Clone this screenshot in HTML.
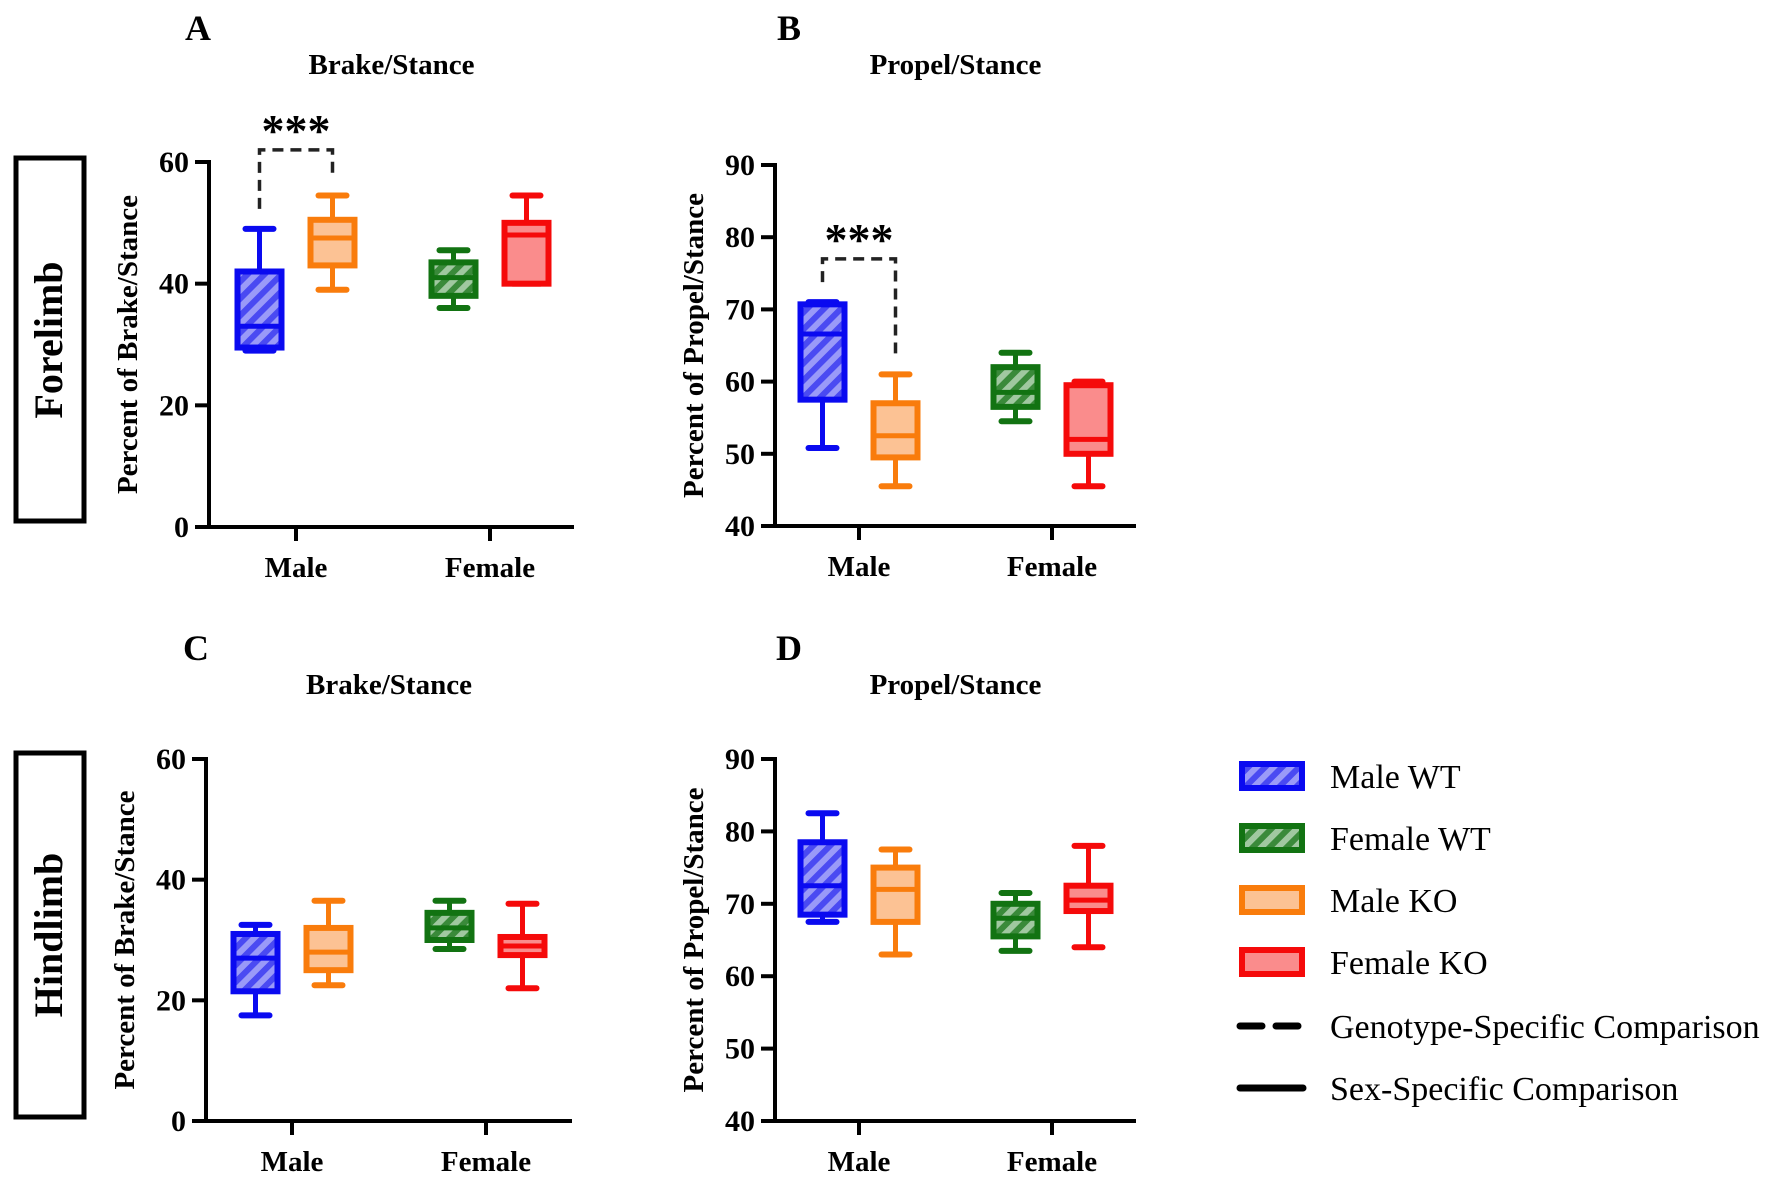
<!DOCTYPE html>
<html><head><meta charset="utf-8"><style>
html,body{margin:0;padding:0;background:#fff;}
svg{display:block;font-family:"Liberation Serif",serif;}
</style></head><body>
<svg id="fig" width="1772" height="1181" viewBox="0 0 1772 1181" xmlns="http://www.w3.org/2000/svg">
<defs>
<pattern id="hatchBlue" width="12" height="12" patternUnits="userSpaceOnUse" patternTransform="rotate(45)">
<rect width="12" height="12" fill="#4a4af2"/><rect width="6" height="12" fill="#9a9af8"/></pattern>
<pattern id="hatchGreen" width="12" height="12" patternUnits="userSpaceOnUse" patternTransform="rotate(45)">
<rect width="12" height="12" fill="#3a8a3a"/><rect width="6" height="12" fill="#a0c8a0"/></pattern>
</defs>
<g id="panels"></g>
<g>
<rect x="16" y="158" width="68" height="363" fill="none" stroke="#000" stroke-width="5"/>
<text transform="translate(62,340) rotate(-90)" text-anchor="middle" font-size="40" font-weight="bold">Forelimb</text>
</g>
<g>
<rect x="16" y="753" width="68" height="364" fill="none" stroke="#000" stroke-width="5"/>
<text transform="translate(62,935) rotate(-90)" text-anchor="middle" font-size="40" font-weight="bold">Hindlimb</text>
</g>
<g id="legend"></g>
</svg>
<script>
const categories = ["Male","Female"];
const groups = ["Male WT","Male KO","Female WT","Female KO"];
// each box: [min, q1, median, q3, max]
const dataA = [[29,29.5,33,42,49],[39,43,47.5,50.5,54.5],[36,38,41,43.5,45.5],[40,40,48,50,54.5]];
const dataB = [[50.8,57.5,66.6,70.7,71],[45.5,49.5,52.5,57,61],[54.5,56.5,58.5,62,64],[45.5,50,52,59.5,60]];
const dataC = [[17.5,21.5,27,31,32.5],[22.5,25,28,32,36.5],[28.5,30,32,34.5,36.5],[22,27.5,29,30.5,36]];
const dataD = [[67.5,68.5,72.5,78.5,82.5],[63,67.5,72,75,77.5],[63.5,65.5,68,70,71.5],[64,69,70.5,72.5,78]];
const ticksBrake = [0,20,40,60];
const ticksPropel = [40,50,60,70,80,90];
const sigA = [0,1,62];
const sigB = [0,1,77];

const NS="http://www.w3.org/2000/svg";
const styles={"Male WT":{s:"#0a0af0",f:"url(#hatchBlue)"},"Male KO":{s:"#f97c0c",f:"#fcc294"},
"Female WT":{s:"#127312",f:"url(#hatchGreen)"},"Female KO":{s:"#f50a0a",f:"#fa8c8c"}};
const catIndex=[0,0,1,1], offs=[-36.5,36.5,-36.5,36.5];
function el(tag,attrs,parent){const e=document.createElementNS(NS,tag);for(const k in attrs)e.setAttribute(k,attrs[k]);parent.appendChild(e);return e;}
const root=document.getElementById("panels");
const panels=[
 {id:"a",letter:"A",title:"Brake/Stance",ylab:"Percent of Brake/Stance",ax:209,y0:527,y1:162,xr:574,min:0,max:60,ticks:ticksBrake,data:dataA,sig:sigA,cat:[296,490],lx:198,ly:40},
 {id:"b",letter:"B",title:"Propel/Stance",ylab:"Percent of Propel/Stance",ax:775,y0:526,y1:165,xr:1136,min:40,max:90,ticks:ticksPropel,data:dataB,sig:sigB,cat:[859,1052],lx:789,ly:40},
 {id:"c",letter:"C",title:"Brake/Stance",ylab:"Percent of Brake/Stance",ax:206,y0:1121,y1:759,xr:572,min:0,max:60,ticks:ticksBrake,data:dataC,sig:null,cat:[292,486],lx:196,ly:660},
 {id:"d",letter:"D",title:"Propel/Stance",ylab:"Percent of Propel/Stance",ax:775,y0:1121,y1:759,xr:1136,min:40,max:90,ticks:ticksPropel,data:dataD,sig:null,cat:[859,1052],lx:789,ly:660}
];
panels.forEach(p=>{
 const g=el("g",{},root);
 
 
 const Y=v=>p.y0-(v-p.min)/(p.max-p.min)*(p.y0-p.y1);
 const lt=el("text",{x:p.lx,y:p.ly,"font-size":36,"font-weight":"bold","text-anchor":"middle"},g);lt.textContent=p.letter;
 
 
 const tt=el("text",{x:(p.ax+p.xr)/2-0,y:p.ly+34,"font-size":29,"font-weight":"bold","text-anchor":"middle"},g);tt.textContent=p.title;
 
 
 const yl=el("text",{transform:`translate(${p.ax-72},${(p.y0+p.y1)/2}) rotate(-90)`,"font-size":29,"font-weight":"bold","text-anchor":"middle"},g);yl.textContent=p.ylab;
 
 
 el("line",{x1:p.ax,y1:p.y1-2,x2:p.ax,y2:p.y0+2,stroke:"#000","stroke-width":4},g);
 el("line",{x1:p.ax-14,y1:p.y0,x2:p.xr,y2:p.y0,stroke:"#000","stroke-width":4},g);
 p.ticks.forEach(t=>{
  el("line",{x1:p.ax-14,y1:Y(t),x2:p.ax,y2:Y(t),stroke:"#000","stroke-width":4},g);
  const tx=el("text",{x:p.ax-20,y:Y(t)+10,"font-size":30,"font-weight":"bold","text-anchor":"end"},g);tx.textContent=t;
  
  
 });
 categories.forEach((c,i)=>{
  el("line",{x1:p.cat[i],y1:p.y0,x2:p.cat[i],y2:p.y0+14,stroke:"#000","stroke-width":4},g);
  const tx=el("text",{x:p.cat[i],y:p.y0+50,"font-size":29,"font-weight":"bold","text-anchor":"middle"},g);tx.textContent=c;
  
  
 });
 p.data.forEach((d,i)=>{
  const st=styles[groups[i]], cx=p.cat[catIndex[i]]+offs[i], hw=22;
  const bg=el("g",{},g);
  
  
  el("line",{x1:cx,y1:Y(d[0]),x2:cx,y2:Y(d[4]),stroke:st.s,"stroke-width":5},bg);
  el("line",{x1:cx-14,y1:Y(d[0]),x2:cx+14,y2:Y(d[0]),stroke:st.s,"stroke-width":6,"stroke-linecap":"round"},bg);
  el("line",{x1:cx-14,y1:Y(d[4]),x2:cx+14,y2:Y(d[4]),stroke:st.s,"stroke-width":6,"stroke-linecap":"round"},bg);
  el("rect",{x:cx-hw,y:Y(d[3]),width:2*hw,height:Y(d[1])-Y(d[3]),fill:st.f,stroke:st.s,"stroke-width":6},bg);
  el("line",{x1:cx-hw,y1:Y(d[2]),x2:cx+hw,y2:Y(d[2]),stroke:st.s,"stroke-width":5},bg);
 });
 if(p.sig){
  const a=p.sig[0],b=p.sig[1];
  const x1=p.cat[catIndex[a]]+offs[a], x2=p.cat[catIndex[b]]+offs[b], yt=Y(p.sig[2]);
  const yb1=Y(p.data[a][4])-20, yb2=Y(p.data[b][4])-21;
  const sg=el("g",{},g);
  
  
  el("polyline",{points:`${x1},${yb1} ${x1},${yt} ${x2},${yt} ${x2},${yb2}`,fill:"none",stroke:"#222","stroke-width":3.5,"stroke-dasharray":"11,7"},sg);
  const s=el("text",{x:(x1+x2)/2,y:yt-4,"font-size":46,"font-weight":"bold","text-anchor":"middle"},sg);s.textContent="***";
 }
});
const leg=document.getElementById("legend");
const legOrder=["Male WT","Female WT","Male KO","Female KO"];
const legY=[776,838,900,962];
legOrder.forEach((gname,i)=>{
 const st=styles[gname];
 const e=el("g",{},leg);
 
 
 el("rect",{x:1242,y:legY[i]-12,width:60,height:24,fill:st.f,stroke:st.s,"stroke-width":6},e);
 const t=el("text",{x:1330,y:legY[i]+12,"font-size":34},e);t.textContent=gname;
});
const l1=el("g",{},leg);


el("line",{x1:1240,y1:1026,x2:1302,y2:1026,stroke:"#000","stroke-width":7,"stroke-dasharray":"22,14","stroke-linecap":"round"},l1);
const t1=el("text",{x:1330,y:1038,"font-size":34},l1);t1.textContent="Genotype-Specific Comparison";
const l2=el("g",{},leg);


el("line",{x1:1240,y1:1088,x2:1303,y2:1088,stroke:"#000","stroke-width":7,"stroke-linecap":"round"},l2);
const t2=el("text",{x:1330,y:1100,"font-size":34},l2);t2.textContent="Sex-Specific Comparison";
</script>
</body></html>
